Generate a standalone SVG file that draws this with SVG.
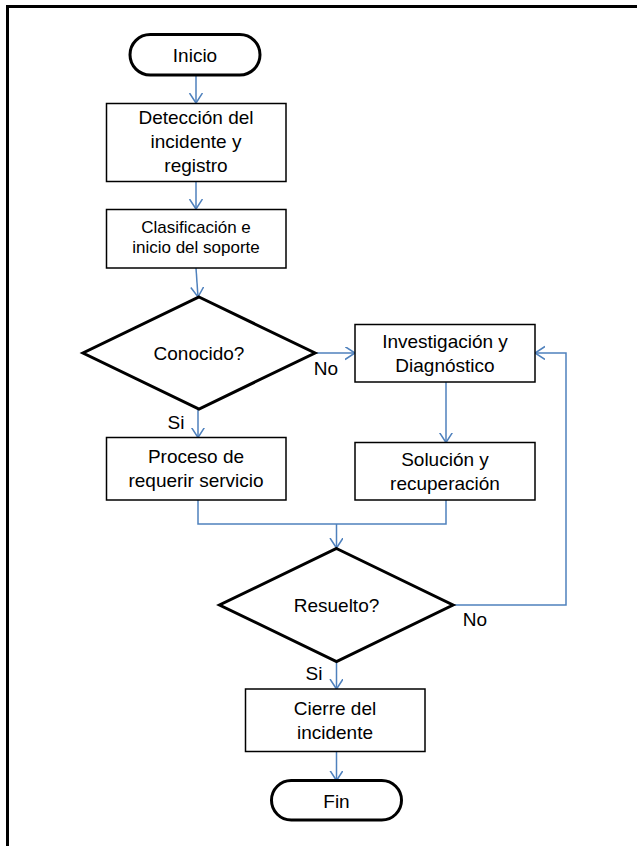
<svg xmlns="http://www.w3.org/2000/svg" width="637" height="846" viewBox="0 0 637 846">
<style>
text{font-family:"Liberation Sans",Arial,sans-serif;font-size:19px;fill:#000;text-anchor:middle}
.sm{font-size:17px}
.box{fill:#fff;stroke:#000;stroke-width:1.5}
.thick{fill:#fff;stroke:#000;stroke-width:3}
.con{fill:none;stroke:#4f81bd;stroke-width:1.5}
</style>
<defs>
<marker id="arr" markerUnits="userSpaceOnUse" markerWidth="12" markerHeight="15" refX="10" refY="6.5" orient="auto">
<path d="M0,0 L10,6.5 L0,13" fill="none" stroke="#4f81bd" stroke-width="1.5"/>
</marker>
</defs>
<rect width="637" height="846" fill="#fff"/>
<path d="M7.5,850 L7.5,6.5 L640,6.5" fill="none" stroke="#000" stroke-width="3"/>
<g id="connectors">
<line class="con" x1="196" y1="75" x2="196" y2="103" marker-end="url(#arr)"/>
<line class="con" x1="196" y1="181" x2="196" y2="209" marker-end="url(#arr)"/>
<line class="con" x1="196" y1="268" x2="198" y2="297" marker-end="url(#arr)"/>
<line class="con" x1="315" y1="353" x2="355" y2="353" marker-end="url(#arr)"/>
<line class="con" x1="198" y1="409" x2="198" y2="437.5" marker-end="url(#arr)"/>
<line class="con" x1="446" y1="382" x2="446" y2="442.5" marker-end="url(#arr)"/>
<polyline class="con" points="198,500 198,524 446,524 446,500"/>
<line class="con" x1="336.5" y1="524" x2="336.5" y2="548" marker-end="url(#arr)"/>
<polyline class="con" points="453,605 566,605 566,353 535,353" marker-end="url(#arr)"/>
<line class="con" x1="336.5" y1="662" x2="336.5" y2="689" marker-end="url(#arr)"/>
<line class="con" x1="336.5" y1="752" x2="336.5" y2="780.5" marker-end="url(#arr)"/>
<text x="326" y="375">No</text>
<text x="176" y="429">Si</text>
<text x="475" y="626">No</text>
<text x="314" y="680">Si</text>
</g>
<g id="inicio">
<rect class="thick" x="130" y="34.5" width="130" height="40.5" rx="20.25"/>
<text x="195" y="62">Inicio</text>
</g>
<g id="deteccion">
<rect class="box" x="106.5" y="103.5" width="179.5" height="78"/>
<text x="196" y="124">Detección del</text>
<text x="196" y="148">incidente y</text>
<text x="196" y="172">registro</text>
</g>
<g id="clasificacion">
<rect class="box" x="106.5" y="209.5" width="179.5" height="58.5"/>
<text class="sm" x="196" y="233">Clasificación e</text>
<text class="sm" x="196" y="253">inicio del soporte</text>
</g>
<g id="conocido">
<polygon class="thick" points="199,297 315,353 199,409 83,353"/>
<text x="199" y="360">Conocido?</text>
</g>
<g id="investigacion">
<rect class="box" x="355" y="324.5" width="180" height="57.5"/>
<text x="445" y="348">Investigación y</text>
<text x="445" y="371.5">Diagnóstico</text>
</g>
<g id="proceso">
<rect class="box" x="106.5" y="437.5" width="179.5" height="62.5"/>
<text x="196" y="463">Proceso de</text>
<text x="196" y="487">requerir servicio</text>
</g>
<g id="solucion">
<rect class="box" x="355" y="442.5" width="180" height="57.5"/>
<text x="445" y="465.5">Solución y</text>
<text x="445" y="490">recuperación</text>
</g>
<g id="resuelto">
<polygon class="thick" points="336.5,548.5 453,605 336.5,661.5 219.5,605"/>
<text x="336.5" y="611.5">Resuelto?</text>
</g>
<g id="cierre">
<rect class="box" x="245.5" y="689" width="179.5" height="62.5"/>
<text x="335" y="715">Cierre del</text>
<text x="335" y="739">incidente</text>
</g>
<g id="fin">
<rect class="thick" x="271.5" y="780.5" width="130" height="39.5" rx="19.75"/>
<text x="336.5" y="807.5">Fin</text>
</g>
</svg>
